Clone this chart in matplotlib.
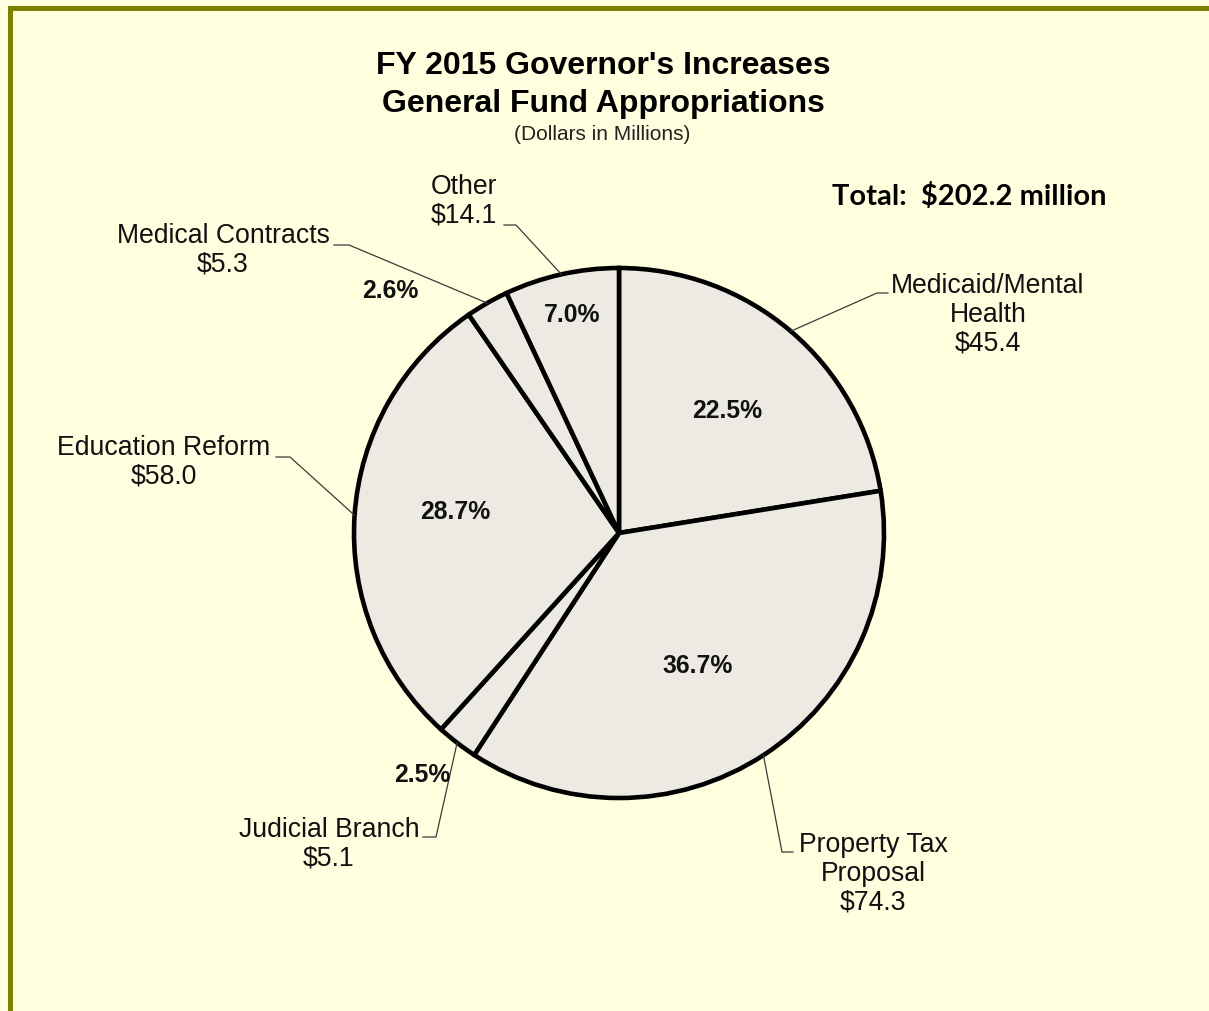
import numpy as np
import matplotlib.pyplot as plt
from matplotlib.patches import Rectangle

W, H = 1209, 1011

# chart data (dollars in millions), clockwise from 12 o'clock
categories = ['Medicaid/Mental\nHealth', 'Property Tax\nProposal', 'Judicial Branch',
              'Education Reform', 'Medical Contracts', 'Other']
values = [45.4, 74.3, 5.1, 58.0, 5.3, 14.1]


def px(x, y):
    # picture pixel coords (origin top-left) -> data coords
    return x, H - y


def main():
    plt.rcParams['font.family'] = ['Liberation Sans', 'DejaVu Sans']
    bg = '#FFFFE0'
    fig = plt.figure(figsize=(W / 100, H / 100), dpi=100, facecolor=bg)
    ax = fig.add_axes([0, 0, 1, 1])
    ax.set_facecolor(bg)

    center = px(619, 533)
    radius = 265
    wedges, _ = ax.pie(values, startangle=90, counterclock=False,
                       center=center, radius=radius,
                       colors=['#ECEAE2'] * len(values),
                       wedgeprops=dict(edgecolor='black', linewidth=3.3))
    ax.set_xlim(0, W)
    ax.set_ylim(0, H)
    ax.set_aspect('equal')
    ax.axis('off')

    total = sum(values)

    # label layout: text centre, elbow point, line end, percent position
    label_pos = [(988, 315), (873, 874), (329, 844), (164, 462), (223, 250), (464, 201)]
    elbows = [((877, 293), (888, 293)), ((782, 852), (793, 852)), ((436, 837), (423, 837)),
              ((290, 457), (276, 457)), ((349, 245), (334, 245)), ((516, 225), (504, 225))]
    pct_pos = [(727, 411), (698, 666), (422, 775), (455, 512), (390, 291), (572, 315)]

    for w, cat, val, lp, (elb, end), pp in zip(wedges, categories, values,
                                                label_pos, elbows, pct_pos):
        mid = np.deg2rad((w.theta1 + w.theta2) / 2)
        ex = center[0] + radius * np.cos(mid)
        ey = center[1] + radius * np.sin(mid)
        ax.plot([ex, px(*elb)[0], px(*end)[0]], [ey, px(*elb)[1], px(*end)[1]],
                color='#3a3a3a', lw=0.9, zorder=1)
        ax.text(*px(*lp), f'{cat}\n${val:.1f}', ha='center', va='center',
                fontsize=19.2, color='#111111', linespacing=1.13)
        ax.text(*px(*pp), f'{val / total * 100:.1f}%', ha='center', va='center',
                fontsize=17.8, fontweight='bold', color='#111111')

    ax.text(*px(603, 66), "FY 2015 Governor's Increases", ha='center', va='center',
            fontsize=23, fontweight='bold')
    ax.text(*px(603, 104), 'General Fund Appropriations', ha='center', va='center',
            fontsize=23, fontweight='bold')
    ax.text(*px(602, 134), '(Dollars in Millions)', ha='center', va='center',
            fontsize=15, color='#222222')
    ax.text(*px(969, 196), f'Total:  ${total:.1f} million', ha='center', va='center',
            fontsize=21, fontweight='bold', family=['Lato', 'DejaVu Sans'])

    # olive frame on left and top
    fig.patches.append(Rectangle((8 / W, 0), 5 / W, (H - 6) / H, transform=fig.transFigure,
                                 facecolor='#808000', edgecolor='none'))
    fig.patches.append(Rectangle((8 / W, (H - 11) / H), (W - 8) / W, 5 / H,
                                 transform=fig.transFigure,
                                 facecolor='#808000', edgecolor='none'))

    fig.savefig('out.png', dpi=100, facecolor=bg)


if __name__ == '__main__':
    main()
